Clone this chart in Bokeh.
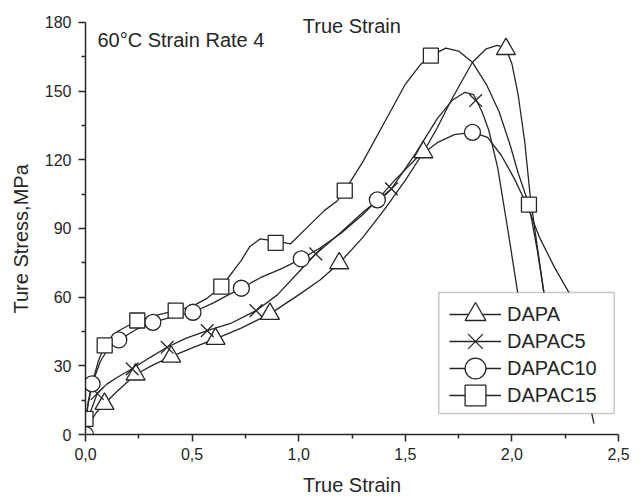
from bokeh.plotting import figure
from bokeh.models import Range1d, FixedTicker, Label, Legend, LegendItem, BoxAnnotation, Title
from bokeh.embed import file_html
from bokeh.resources import INLINE

FONT = "Liberation Sans"
INK = "#262626"

# ---------------- data ----------------
series_names = ["DAPA", "DAPAC5", "DAPAC10", "DAPAC15"]

# smooth curves
dapa_curve_x = [0.0, 0.02, 0.05, 0.089, 0.15, 0.235, 0.32, 0.402, 0.5, 0.61, 0.73, 0.865, 1.0, 1.1, 1.19,
                1.3, 1.4, 1.5, 1.585, 1.65, 1.714, 1.815, 1.88, 1.93, 1.97, 2.0, 2.03, 2.06, 2.085, 2.11,
                2.15, 2.18, 2.21]
dapa_curve_y = [0, 5, 9.5, 13.4, 19, 26.2, 30.5, 34, 37.8, 41.8, 46.5, 52.7, 61, 67.5, 74.8,
                86, 98, 111, 123.3, 134, 145.8, 162.6, 168.5, 170, 169, 162, 148, 128, 105, 88,
                62, 42, 22]

dapac5_curve_x = [0.0, 0.02, 0.055, 0.1, 0.15, 0.219, 0.3, 0.383, 0.47, 0.571, 0.68, 0.80, 0.9, 1.0, 1.08,
                  1.2, 1.3, 1.435, 1.55, 1.65, 1.72, 1.78, 1.82, 1.86, 1.892, 1.933, 1.98, 2.027, 2.06, 2.09]
dapac5_curve_y = [0, 9, 17.9, 22, 25, 28.7, 33.5, 38.1, 42, 45.4, 48.5, 54.1, 61, 71, 78.9,
                  88.5, 97, 107.3, 123, 138, 146, 149.5, 148.5, 141, 132.8, 116.7, 90, 62.1, 40, 20]

dapac10_curve_x = [0.0, 0.01, 0.031, 0.07, 0.11, 0.156, 0.24, 0.316, 0.41, 0.504, 0.6, 0.67, 0.731, 0.82,
                   0.92, 1.012, 1.1, 1.2, 1.3, 1.369, 1.45, 1.55, 1.65, 1.73, 1.815, 1.886, 1.95, 2.01,
                   2.07, 2.13, 2.2, 2.267, 2.31, 2.345, 2.385]
dapac10_curve_y = [0, 12, 22.1, 32, 38, 41.3, 46, 49, 51.5, 53.4, 57.5, 61, 63.9, 68.5,
                   72.5, 76.7, 81.5, 88, 96, 102.5, 111, 120.5, 127.5, 131, 132, 129.8, 122, 112,
                   100.4, 86, 73, 62.1, 42, 22, 4.8]

dapac15_curve_x = [0.0, 0.003, 0.012, 0.03, 0.06, 0.09, 0.15, 0.243, 0.33, 0.423, 0.5, 0.57, 0.637, 0.69,
                   0.73, 0.77, 0.82, 0.892, 0.962, 1.04, 1.12, 1.18, 1.216, 1.3, 1.4, 1.5, 1.57, 1.62,
                   1.69, 1.75, 1.815, 1.88, 1.94, 1.99, 2.03, 2.08, 2.12, 2.15, 2.18, 2.2]
dapac15_curve_y = [0, 6.8, 14, 22, 32, 38.9, 45, 49.8, 52, 54.1, 56, 59.5, 64.6, 71,
                   76, 82, 85.5, 84.5, 83.3, 90.5, 97.8, 102, 106.5, 119, 136, 153, 161.5, 165.5,
                   168.8, 167.5, 162.6, 153, 141, 127, 114, 100.4, 80, 62, 42, 25]

# marker points
dapa_mx = [0.089, 0.235, 0.402, 0.61, 0.865, 1.19, 1.585, 1.972]
dapa_my = [13.4, 26.2, 34.0, 41.8, 52.7, 74.8, 123.3, 168.4]
dapac5_mx = [0.055, 0.219, 0.383, 0.571, 0.80, 1.08, 1.435, 1.83]
dapac5_my = [17.9, 28.7, 38.1, 45.4, 54.1, 78.9, 107.3, 145.9]
dapac10_mx = [0.0, 0.031, 0.156, 0.316, 0.504, 0.731, 1.012, 1.369, 1.815]
dapac10_my = [0.0, 22.1, 41.3, 49.0, 53.4, 63.9, 76.7, 102.5, 132.0]
dapac15_mx = [0.0, 0.09, 0.243, 0.423, 0.637, 0.892, 1.216, 1.62, 2.08]
dapac15_my = [6.8, 38.9, 49.8, 54.1, 64.6, 83.7, 106.5, 165.5, 100.4]

x_ticks = [0.0, 0.5, 1.0, 1.5, 2.0, 2.5]
x_tick_labels = ["0,0", "0,5", "1,0", "1,5", "2,0", "2,5"]
x_minor = [0.25, 0.75, 1.25, 1.75, 2.25]
y_ticks = [0, 30, 60, 90, 120, 150, 180]
y_tick_labels = ["0", "30", "60", "90", "120", "150", "180"]
y_minor = [15, 45, 75, 105, 135, 165]

x_title = "True Strain"
y_title = "Ture Stress,MPa"
top_text = "True Strain"
annotation_text = "60°C Strain Rate 4"

# ---------------- figure ----------------
# y range reaches a bit above 180 so the texts at the top stay inside the frame;
# the axis itself is bounded to 0..180
p = figure(width=641, height=503, output_backend="svg", toolbar_location=None,
           x_range=Range1d(0, 2.5), y_range=Range1d(0, 189.6),
           min_border_left=85, min_border_right=23, min_border_top=0, min_border_bottom=69)
p.outline_line_color = None
p.grid.visible = False
p.background_fill_color = "white"
p.border_fill_color = "white"

for ax in (p.xaxis[0], p.yaxis[0]):
    ax.axis_line_color = INK
    ax.axis_line_width = 1.5
    ax.major_tick_line_color = INK
    ax.major_tick_line_width = 1.5
    ax.minor_tick_line_color = INK
    ax.minor_tick_line_width = 1.5
    ax.major_tick_in = 0
    ax.major_tick_out = 7
    ax.minor_tick_in = 0
    ax.minor_tick_out = 4
    ax.major_label_text_font = FONT
    ax.major_label_text_font_size = "16px"
    ax.major_label_text_color = INK
    ax.axis_label_text_font = FONT
    ax.axis_label_text_font_size = "20px"
    ax.axis_label_text_font_style = "normal"
    ax.axis_label_text_color = INK

p.xaxis.bounds = (0, 2.5)
p.yaxis.bounds = (0, 180)
p.xaxis.ticker = FixedTicker(ticks=x_ticks, minor_ticks=x_minor)
p.yaxis.ticker = FixedTicker(ticks=y_ticks, minor_ticks=y_minor)
p.xaxis.major_label_overrides = {t: l for t, l in zip(x_ticks, x_tick_labels)}
p.yaxis.major_label_overrides = {t: l for t, l in zip(y_ticks, y_tick_labels)}
p.xaxis.axis_label = x_title
p.xaxis.major_label_standoff = 6
p.yaxis.major_label_standoff = 7
p.xaxis.axis_label_standoff = 11

# y axis title as a side title; its start is set 121 px above the frame bottom
p.add_layout(Title(text=y_title, align="left", offset=121, standoff=16,
                   vertical_align="top",
                   text_font=FONT, text_font_size="20px", text_font_style="normal",
                   text_color=INK), "left")

curves = [(dapa_curve_x, dapa_curve_y), (dapac5_curve_x, dapac5_curve_y),
          (dapac10_curve_x, dapac10_curve_y), (dapac15_curve_x, dapac15_curve_y)]
marks = [(dapa_mx, dapa_my), (dapac5_mx, dapac5_my),
         (dapac10_mx, dapac10_my), (dapac15_mx, dapac15_my)]
marker_types = ["triangle", "x", "circle", "square"]
marker_sizes = [19, 18, 16, 15]

line_renderers = []
for cx, cy in curves:
    line_renderers.append(p.line(cx, cy, line_color=INK, line_width=1.3))

marker_renderers = []
for (mx, my), mt, ms in zip(marks, marker_types, marker_sizes):
    marker_renderers.append(
        p.scatter(mx, my, marker=mt, size=ms, line_color=INK, line_width=1.3, fill_color="white"))

# legend frame (white box hiding the curves behind it)
p.add_layout(BoxAnnotation(left=1.657, right=2.48, bottom=9.2, top=62.0,
                           fill_color="white", fill_alpha=1.0,
                           line_color="#4a4a4a", line_width=1.5))

# one legend row per series, stacked, so the swatch markers can be large
row_bottoms = [94, 67, 40, 13]
for name, lr, sr, yb in zip(series_names, line_renderers, marker_renderers, row_bottoms):
    lg = Legend(items=[LegendItem(label=name, renderers=[lr, sr])],
                location=(364, yb), orientation="vertical",
                glyph_width=52, glyph_height=52, spacing=0, padding=0, margin=0,
                label_standoff=6, label_text_font=FONT, label_text_font_size="20px",
                label_text_color=INK, label_text_baseline="middle",
                border_line_color=None, background_fill_alpha=0.0)
    p.add_layout(lg)

p.add_layout(Label(x=0.056, y=172.5, text=annotation_text, text_font=FONT,
                   text_font_size="20px", text_color=INK, text_baseline="alphabetic"))
p.add_layout(Label(x=1.019, y=178.6, text=top_text, text_font=FONT,
                   text_font_size="20px", text_color=INK, text_baseline="alphabetic"))

open("out.html", "w").write(file_html(p, INLINE))
